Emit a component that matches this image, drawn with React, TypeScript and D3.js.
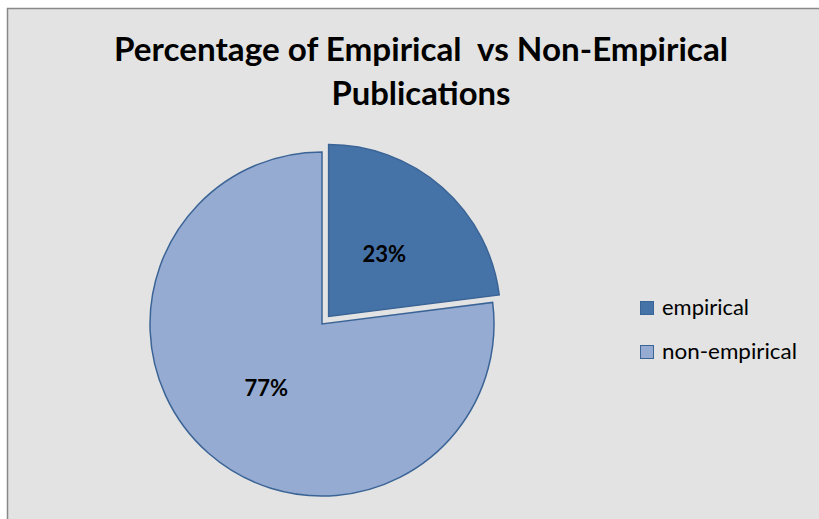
import React from "react";
import * as d3 from "d3";

const categories = ["empirical", "non-empirical"];
const values = [23, 77];
const labels = ["23%", "77%"];
const colors = ["#4572a7", "#95abd2"];
const titleLines = ["Percentage of Empirical  vs Non-Empirical", "Publications"];
const titleWidths = [614, 179];
const legendWidths = [87, 135];

export default function App() {
  const W = 819, H = 519;
  const cx = 322, cy = 324, r = 172, explode = 10;
  const pie = d3.pie<number>().sort(null).value((d) => d)(values);
  const arc = d3.arc<d3.PieArcDatum<number>>().innerRadius(0).outerRadius(r);
  const labelArc = d3.arc<d3.PieArcDatum<number>>().innerRadius(r * 0.49).outerRadius(r * 0.49);
  const font = "Lato, 'Open Sans', sans-serif";
  return (
    <svg width={W} height={H} style={{ position: "absolute", left: 0, top: 0 }}>
      <rect x={7.5} y={8.5} width={W + 10} height={H + 10} fill="#e3e3e3" stroke="#888" strokeWidth={1.5} />
      {titleLines.map((t, i) => (
        <text key={i} x={421} y={61 + i * 44} textAnchor="middle" fontFamily={font} fontWeight="bold" fontSize={32} fill="#000"
          textLength={titleWidths[i]} lengthAdjust="spacingAndGlyphs" style={{ whiteSpace: "pre" }}>
          {t}
        </text>
      ))}
      <g transform={`translate(${cx},${cy})`}>
        {pie.map((p, i) => {
          const mid = (p.startAngle + p.endAngle) / 2;
          const off = i === 0 ? explode : 0;
          const dx = Math.sin(mid) * off, dy = -Math.cos(mid) * off;
          const [lx, ly] = labelArc.centroid(p);
          return (
            <g key={i} transform={`translate(${dx},${dy})`}>
              <path d={arc(p) || ""} fill={colors[i]} stroke="#3b6496" strokeWidth={1.5} />
              <text x={lx} y={ly} textAnchor="middle" dominantBaseline="central" fontFamily={font} fontWeight="bold" fontSize={22} fill="#000">
                {labels[i]}
              </text>
            </g>
          );
        })}
      </g>
      {categories.map((c, i) => (
        <g key={c} transform={`translate(640,${301 + i * 44})`}>
          <rect x={0.5} y={0.5} width={13} height={13} fill={colors[i]} stroke="#3b6496" strokeWidth={1} />
          <text x={22} y={14} fontFamily={font} fontSize={20.5} fill="#000" textLength={legendWidths[i]} lengthAdjust="spacingAndGlyphs">
            {c}
          </text>
        </g>
      ))}
    </svg>
  );
}
